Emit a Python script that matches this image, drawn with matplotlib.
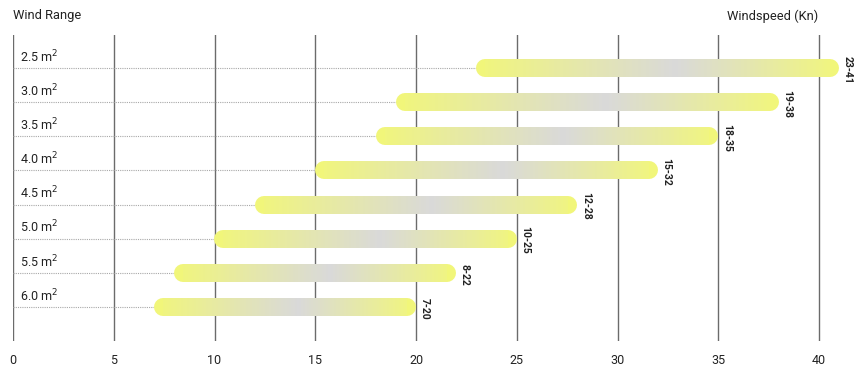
import numpy as np
import matplotlib.pyplot as plt
from matplotlib.collections import LineCollection
from matplotlib.colors import LinearSegmentedColormap

plt.rcParams["font.family"] = ["Roboto", "DejaVu Sans"]

# data
sails = ["2.5 m$^2$", "3.0 m$^2$", "3.5 m$^2$", "4.0 m$^2$",
         "4.5 m$^2$", "5.0 m$^2$", "5.5 m$^2$", "6.0 m$^2$"]
wind_min = [23, 19, 18, 15, 12, 10, 8, 7]
wind_max = [41, 38, 35, 32, 28, 25, 22, 20]
x_ticks = [0, 5, 10, 15, 20, 25, 30, 35, 40]

W, H = 856, 373
fig = plt.figure(figsize=(W / 100, H / 100), dpi=100)
ax = fig.add_axes([13 / W, (H - 341) / H, (W - 13) / W, 306 / H])

px_per_unit = 20.15
ax.set_xlim(0, (W - 13) / px_per_unit)
ax.set_ylim(8.0, -0.97)

for s in ax.spines.values():
    s.set_visible(False)

for t in x_ticks:
    ax.axvline(t, color="#6b6b6b", lw=1.0, zorder=1)

cmap = LinearSegmentedColormap.from_list(
    "wind", [(0, "#f1f67a"), (0.55, "#d9d9d9"), (1, "#f1f67c")])

bar_px = 18
r = (bar_px / 2) / px_per_unit  # cap radius in data units
lw_pt = bar_px * 72 / 100

for i, (lo, hi) in enumerate(zip(wind_min, wind_max)):
    # dotted guide line up to bar start
    ax.plot([0, lo], [i, i], color="#a8a8a8", lw=0.8, ls=(0, (1, 1)), zorder=1)
    # end caps
    ax.plot([lo + r, hi - r], [i, i], color="#f1f67a", lw=lw_pt,
            solid_capstyle="round", zorder=2)
    # gradient body
    n = 120
    xs = np.linspace(lo + r, hi - r, n + 1)
    segs = [[(xs[k], i), (xs[k + 1], i)] for k in range(n)]
    fr = (0.5 * (xs[:-1] + xs[1:]) - lo) / (hi - lo)
    lc = LineCollection(segs, colors=cmap(fr), linewidths=lw_pt,
                        capstyle="butt", zorder=3)
    ax.add_collection(lc)
    # row label
    ax.text(0.35, i - 0.33, sails[i], fontsize=9, color="#222222",
            ha="left", va="center")
    # range label
    ax.text(hi + 0.18, i + 0.05, f"{lo}-{hi}", rotation=270, fontsize=7.5,
            fontweight="bold", color="#222222", ha="left", va="center")

ax.set_yticks([])
ax.set_xticks(x_ticks)
ax.set_xticklabels([str(t) for t in x_ticks], fontsize=9, color="#222222")
ax.tick_params(axis="x", length=0, pad=9)

fig.text(13 / W, 1 - 16 / H, "Wind Range", fontsize=9.3, color="#222222",
         ha="left", va="center")
fig.text(818 / W, 1 - 16 / H, "Windspeed (Kn)", fontsize=9.3, color="#222222",
         ha="right", va="center")

fig.savefig("out.png", dpi=100)
